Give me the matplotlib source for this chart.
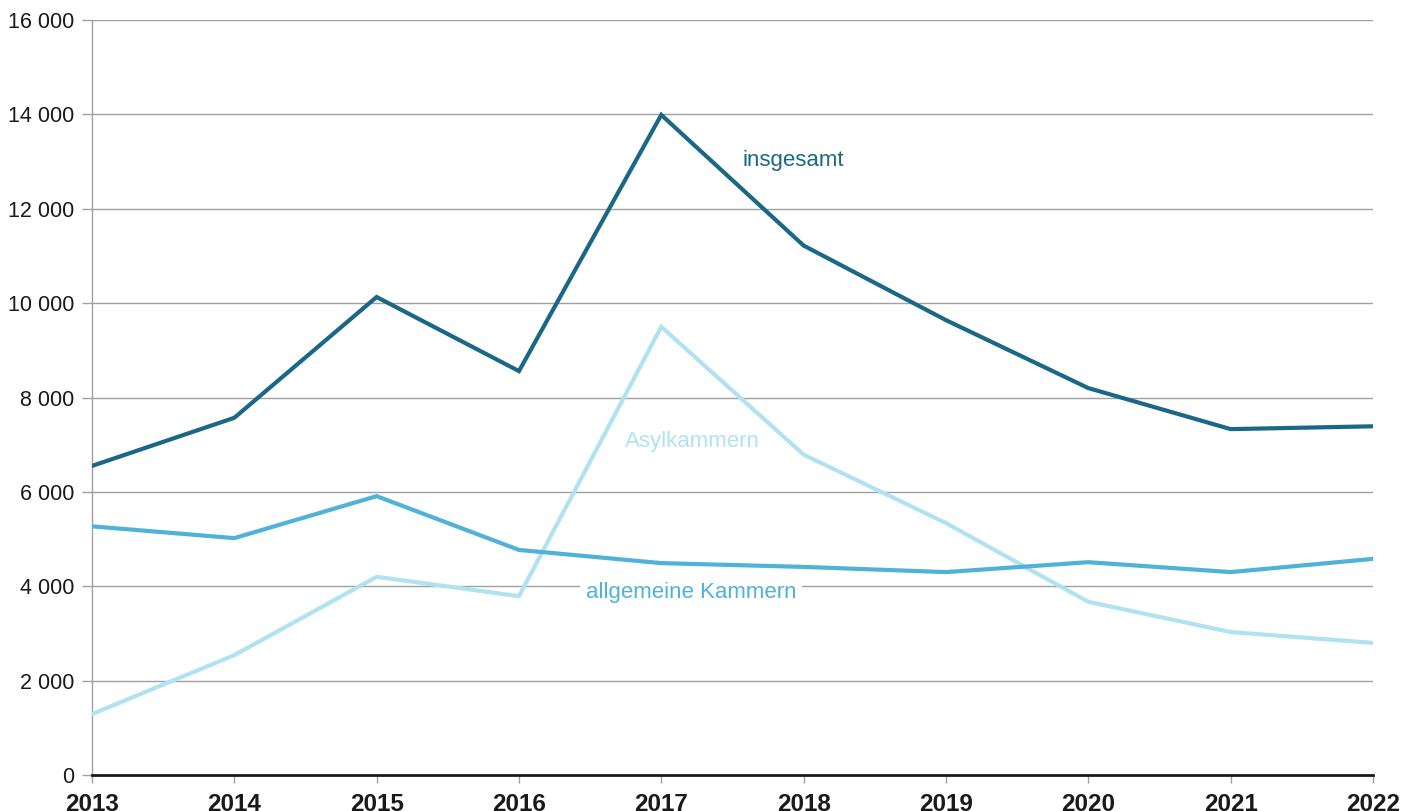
import matplotlib.pyplot as plt

years = [2013, 2014, 2015, 2016, 2017, 2018, 2019, 2020, 2021, 2022]
insgesamt = [6550, 7570, 10130, 8560, 13990, 11220, 9640, 8200, 7330, 7390]
allgemeine = [5270, 5020, 5910, 4770, 4490, 4410, 4300, 4510, 4300, 4580]
asyl = [1290, 2540, 4200, 3790, 9500, 6790, 5340, 3670, 3030, 2800]
y_ticks = [0, 2000, 4000, 6000, 8000, 10000, 12000, 14000, 16000]
y_labels = ['0', '2 000', '4 000', '6 000', '8 000', '10 000', '12 000', '14 000', '16 000']

c_total = '#1b6788'
c_allg = '#50b1d9'
c_asyl = '#b1e2f2'

plt.rcParams['font.family'] = ['Liberation Sans', 'DejaVu Sans']

fig = plt.figure(figsize=(14.17, 8.11), dpi=100)
ax = fig.add_axes([0.0649, 0.0444, 0.9040, 0.9309])

for v in y_ticks[1:]:
    ax.axhline(v, color='#a0a0a0', lw=1.0, zorder=1)

ax.plot(years, asyl, color=c_asyl, lw=3, solid_joinstyle='miter', zorder=3)
ax.plot(years, allgemeine, color=c_allg, lw=3, solid_joinstyle='miter', zorder=3)
ax.plot(years, insgesamt, color=c_total, lw=3, solid_joinstyle='miter', zorder=4)

# series labels placed next to the lines
ax.text(2017.93, 13030, 'insgesamt', color=c_total, fontsize=16, ha='center', va='center', zorder=5)
ax.text(2017.22, 7060, 'Asylkammern', color=c_asyl, fontsize=16, ha='center', va='center', zorder=5)
ax.text(2017.21, 3860, 'allgemeine Kammern', color=c_allg, fontsize=16, ha='center', va='center',
        bbox=dict(facecolor='white', edgecolor='none', pad=4), zorder=2)

ax.set_xlim(2013, 2022)
ax.set_ylim(0, 16000)
ax.set_xticks(years)
ax.set_xticklabels([str(y) for y in years], fontsize=17.5, fontweight='bold', color='#1a1a1a')
ax.set_yticks(y_ticks)
ax.set_yticklabels(y_labels, fontsize=15.5, color='#1a1a1a')

ax.tick_params(axis='y', length=7, width=1, color='#a0a0a0', pad=6)
ax.tick_params(axis='x', length=6, width=1, color='#a0a0a0', pad=7)

for s in ['top', 'right']:
    ax.spines[s].set_visible(False)
ax.spines['left'].set_color('#a0a0a0')
ax.spines['left'].set_linewidth(1)
ax.spines['bottom'].set_color('#1a1a1a')
ax.spines['bottom'].set_linewidth(2)
ax.spines['bottom'].set_zorder(6)

fig.savefig('out.png', dpi=100)
